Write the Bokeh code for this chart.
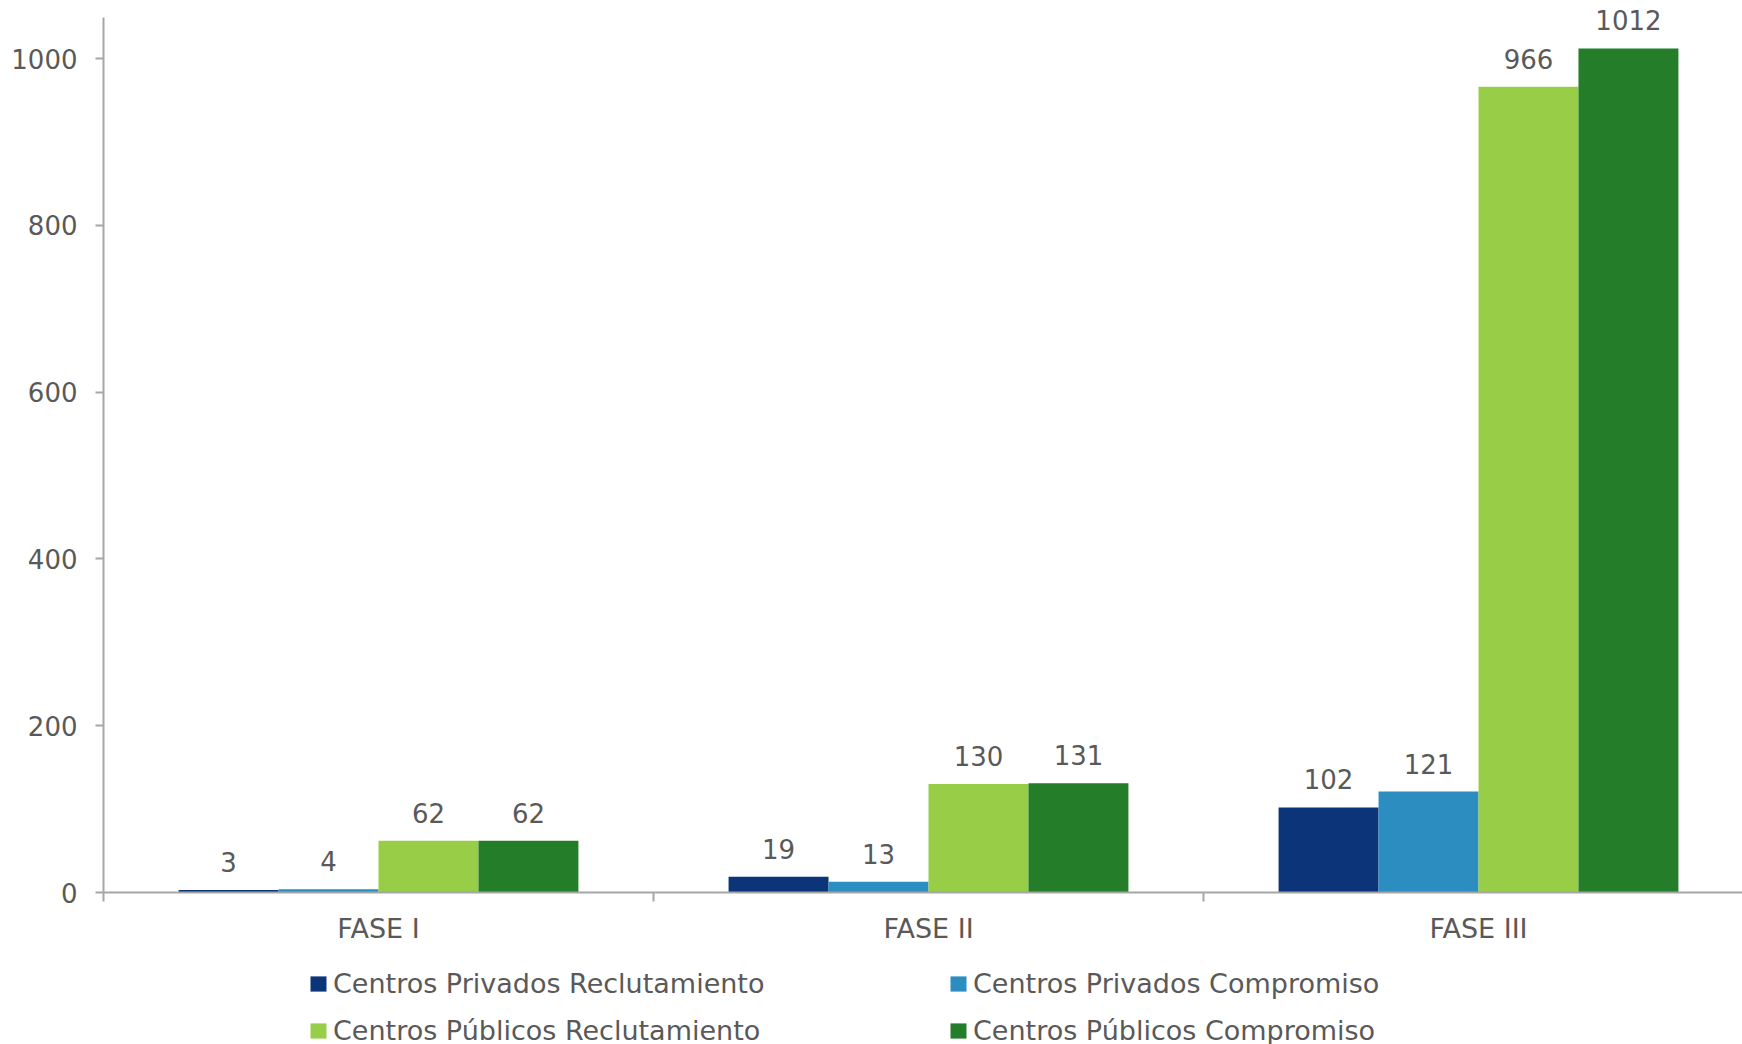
from bokeh.plotting import figure
from bokeh.layouts import column
from bokeh.models import ColumnDataSource, Range1d, FixedTicker, Legend, LegendItem
from bokeh.transform import dodge
from bokeh.core.properties import value
from bokeh.embed import file_html
from bokeh.resources import INLINE

phases = ["FASE I", "FASE II", "FASE III"]
priv_recl = [3, 19, 102]
priv_comp = [4, 13, 121]
pub_recl = [62, 130, 966]
pub_comp = [62, 131, 1012]
series_names = ["Centros Privados Reclutamiento", "Centros Privados Compromiso",
                "Centros Públicos Reclutamiento", "Centros Públicos Compromiso"]
y_ticks = [0, 200, 400, 600, 800, 1000]

colors = ["#0B3578", "#2B8DC0", "#97CD47", "#237D29"]
FONT = "DejaVu Sans"
TXT = "#595959"
AX = "#a6a6a6"

centers = [i + 0.5 for i in range(len(phases))]
src = ColumnDataSource(dict(x=centers, a=priv_recl, b=priv_comp, c=pub_recl, d=pub_comp,
                            at=[str(v) for v in priv_recl], bt=[str(v) for v in priv_comp],
                            ct=[str(v) for v in pub_recl], dt=[str(v) for v in pub_comp]))

p = figure(width=1742, height=962, output_backend="svg", toolbar_location=None,
           x_range=Range1d(0, 1639 / 550), y_range=Range1d(0, 892 / 0.834),
           min_border_left=103, min_border_right=0, min_border_top=0, min_border_bottom=70)
p.outline_line_color = None
p.xgrid.visible = False
p.ygrid.visible = False

bw = 0.727 / 4
offs = [-1.5 * bw, -0.5 * bw, 0.5 * bw, 1.5 * bw]
for key, off, col in zip(["a", "b", "c", "d"], offs, colors):
    p.vbar(x=dodge("x", off, range=p.x_range), top=key, width=bw, source=src,
           fill_color=col, line_color=None)
    p.text(x=dodge("x", off, range=p.x_range), y=key, text=key + "t", source=src,
           text_font=value(FONT), text_font_size="26px", text_color=TXT,
           text_align="center", text_baseline="middle", y_offset=-28)

# axes
xa = p.xaxis[0]
xa.ticker = FixedTicker(ticks=centers, minor_ticks=[0, 1, 2, 3])
xa.major_label_overrides = {c: n for c, n in zip(centers, phases)}
xa.major_tick_line_color = None
xa.major_tick_out = 0
xa.major_tick_in = 0
xa.minor_tick_in = 0
xa.minor_tick_out = 9
xa.minor_tick_line_color = AX
xa.minor_tick_line_width = 2
xa.axis_line_color = AX
xa.axis_line_width = 2
xa.major_label_text_font = FONT
xa.major_label_text_font_size = "27px"
xa.major_label_text_color = TXT
xa.major_label_standoff = 11

ya = p.yaxis[0]
ya.ticker = FixedTicker(ticks=y_ticks)
ya.bounds = (0, 1049)
ya.major_tick_out = 8
ya.major_tick_in = 0
ya.major_tick_line_color = AX
ya.major_tick_line_width = 2
ya.minor_tick_line_color = None
ya.axis_line_color = AX
ya.axis_line_width = 2
ya.major_label_text_font = FONT
ya.major_label_text_font_size = "26px"
ya.major_label_text_color = TXT
ya.major_label_standoff = 18

# legend figure below the chart
lf = figure(width=1742, height=82, output_backend="svg", toolbar_location=None,
            x_axis_type=None, y_axis_type=None, min_border=0,
            x_range=Range1d(0, 1), y_range=Range1d(2000, 2001))
lf.outline_line_color = None
lf.xgrid.visible = False
lf.ygrid.visible = False
lrs = [lf.vbar(x="x", top=k, width=0.1, source=src, fill_color=c, line_color=None)
       for k, c in zip(["a", "b", "c", "d"], colors)]
legend = Legend(items=[LegendItem(label=n, renderers=[r]) for n, r in zip(series_names, lrs)],
                location=(205, -2), orientation="horizontal", ncols=2,
                glyph_width=20, glyph_height=19, label_standoff=5, label_width=600,
                label_height=32, spacing=15, padding=0, margin=0,
                label_text_font=FONT, label_text_font_size="27px", label_text_color=TXT,
                background_fill_alpha=0, border_line_color=None)
lf.add_layout(legend, "center")

layout = column(p, lf, spacing=0)
open("out.html", "w").write(file_html(layout, INLINE))
